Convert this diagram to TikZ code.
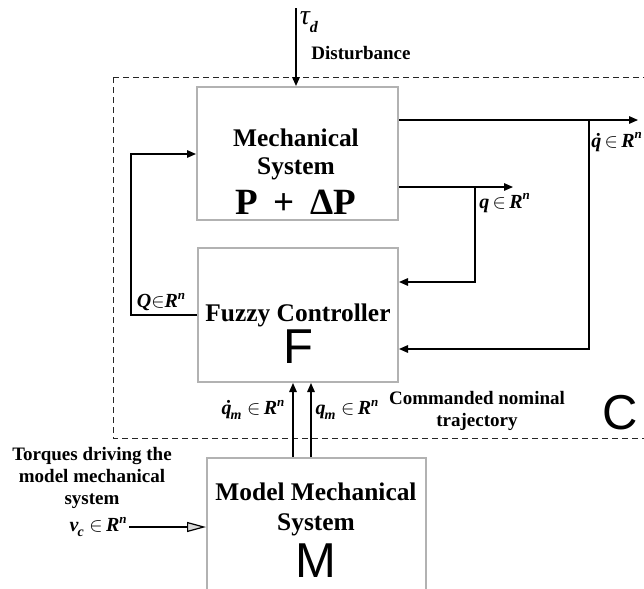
\documentclass[tikz,border=0pt]{standalone}
\usepackage{fontspec}
\setmainfont{Liberation Serif}
\newfontfamily\sansbig{Liberation Sans}
\usepackage{tikz}
\usetikzlibrary{positioning, arrows.meta, calc}
\newcommand{\bi}[1]{\textbf{\textit{#1}}}
\newcommand{\Rn}{\bi{R}\raisebox{0.9ex}{\fontsize{6.5}{7}\selectfont\bi{n}}}
\newcommand{\lowsub}[1]{\raisebox{-0.5ex}{\fontsize{7}{8}\selectfont\bi{#1}}}
\newcommand{\qdot}{\bi{q}\llap{\bi{\char"02D9}\kern0.4pt}}

\begin{document}
\begin{tikzpicture}[x=0.5pt, y=-0.5pt,
    block/.style={rectangle, draw=gray!60, line width=1pt, inner sep=0pt},
    title/.style={font=\fontsize{12.7}{15}\selectfont\bfseries, inner sep=0pt},
    note/.style={font=\fontsize{9.5}{11}\selectfont\bfseries, inner sep=0pt},
    sym/.style={font=\fontsize{10}{12}\selectfont, inner sep=1pt},
    letter/.style={font=\sansbig\fontsize{24.5}{28}\selectfont, inner sep=0pt},
    wire/.style={line width=0.6pt, -{Triangle[length=4.5pt, width=3.8pt]}}]
    \useasboundingbox (0,0) rectangle (644,589);
    \clip (0,0) rectangle (644,589);

    % region C
    \draw[line width=0.5pt, dash pattern=on 3pt off 2pt, black!85] (113,77) rectangle (700,438);

    % blocks
    \node[block, minimum width=100.5pt, minimum height=66.5pt] (mech) at (297.5,153.5) {};
    \node[block, minimum width=100pt, minimum height=67pt] (fuzzy) at (298,315) {};
    \node[block, minimum width=109.5pt, minimum height=91pt] (model) at (316.5,549) {};

    % block texts
    \node[title] (mechA) at (296,138) {Mechanical};
    \node[title] (mechB) at (296,169) {System};
    \node[font=\fontsize{18.5}{20}\selectfont\bfseries, inner sep=0pt] (mechC) at (296,202) {P\hspace{0.42em}+\hspace{0.42em}ΔP};
    \node[title] (fuzzyA) at (298,315) {Fuzzy Controller};
    \node[letter] (fuzzyB) at (298,347) {F};
    \node[title] (modelA) at (316,492) {Model Mechanical};
    \node[title] (modelB) at (316,525) {System};
    \node[letter] (modelC) at (316,561) {M};
    \node[letter] (regionC) at (620,413) {C};

    % notes
    \node[note] (dist) at (361,53) {Disturbance};
    \node[note, align=center] (cmd) at (477,411) {Commanded nominal\\trajectory};
    \node[note, align=center] (torq) at (92,478) {Torques driving the\\model mechanical\\system};

    % signal labels
    \node[sym, font=\fontsize{14}{16}\selectfont] (tau) at (309,22) {\textit{τ}\kern-0.5pt\raisebox{-0.6ex}{\fontsize{8}{9}\selectfont\bi{d}}};
    \node[sym, anchor=west, inner sep=0pt] (qdotL) at (591,142) {\qdot$\,\in\,$\Rn};
    \node[sym, anchor=west] (qL) at (477,203) {\bi{q}$\,\in\,$\Rn};
    \node[sym] (QL) at (161,302) {\bi{Q}$\in$\Rn};
    \node[sym] (qdmL) at (253,410) {\qdot\kern-0.5pt\lowsub{m}$\;\in\,$\Rn};
    \node[sym] (qmL) at (347,410) {\bi{q}\kern-0.5pt\lowsub{m}$\;\in\,$\Rn};
    \node[sym, anchor=east] (vcL) at (129,527) {\bi{v}\kern-0.5pt\lowsub{c}$\;\in\,$\Rn};

    % connections
    \coordinate (dTop) at (296,8);
    \draw[wire, line width=0.8pt] (dTop) -- (dTop |- mech.north);
    \coordinate (qdotTip) at (638,120);
    \coordinate (qdotTurn) at (589,120);
    \draw[wire] (mech.east |- qdotTip) -- (qdotTip);
    \draw[wire] (qdotTurn) |- (fuzzy.east |- 0,349);
    \coordinate (qTip) at (513,187);
    \coordinate (qTurn) at (475,187);
    \draw[wire] (mech.east |- qTip) -- (qTip);
    \draw[wire] (qTurn) |- (fuzzy.east |- 0,282);
    \coordinate (QTurn) at (131,154);
    \draw[wire] (fuzzy.west) -| (QTurn) -- (mech.west |- QTurn);
    \draw[wire] (model.north -| 293,0) -- (fuzzy.south -| 293,0);
    \draw[wire] (model.north -| 311,0) -- (fuzzy.south -| 311,0);
    \draw[line width=0.6pt, -{Triangle[length=9.5pt, width=5pt, fill=gray!30]}] (vcL.east) -- (model.west |- vcL.east);
\end{tikzpicture}
\end{document}
